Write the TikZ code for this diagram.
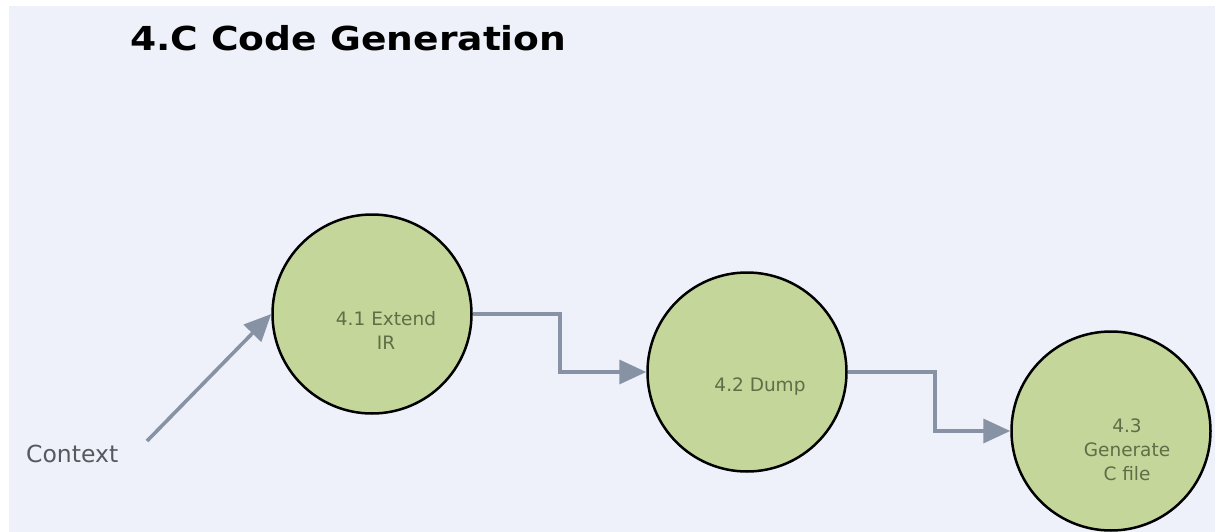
\documentclass[tikz,border=0pt]{standalone}
\usepackage{xcolor}
\usepackage{fontspec}
\setmainfont{DejaVu Sans}
\newfontfamily\headfont{DejaVu Sans}[FakeStretch=1.14]
\usepackage{tikz}
\usetikzlibrary{
  arrows.meta,
  positioning,
  calc
}
\definecolor{paper}{RGB}{238,241,249}
\definecolor{bubble}{RGB}{197,214,154}
\definecolor{bubbletext}{RGB}{95,110,70}
\definecolor{arrowgray}{RGB}{135,146,165}
\definecolor{ctxgray}{RGB}{85,89,95}

\begin{document}
\begin{tikzpicture}[
        x=1pt, y=-1pt,
        proc/.style={circle, draw=black, line width=2.5pt, fill=bubble,
                     minimum size=199pt, inner sep=0pt},
        lbl/.style={text=bubbletext, align=center,
                    font=\fontsize{18.5}{24}\selectfont},
        flow/.style={-{Triangle[length=27pt,width=24pt]}, line width=3.6pt,
                     draw=arrowgray}
    ]
        % page and panel
        \useasboundingbox (0,0) rectangle (1215,532);
        \fill[paper] (9,6) rectangle (1215,532);
        \node[anchor=base west, inner sep=0pt,
              font=\headfont\bfseries\fontsize{33}{40}\selectfont]
              (title) at (130,51) {4.C Code Generation};
        % processes
        \node[proc, label={[lbl,xshift=14pt,yshift=-16pt]center:{4.1 Extend\\IR}}]
              (p1) at (372,314) {};
        \node[proc, label={[lbl,xshift=13pt,yshift=-15pt]center:{4.2 Dump}}]
              (p2) at (747,372) {};
        \node[proc, label={[lbl,xshift=16pt,yshift=-19pt]center:{4.3\\Generate\\C file}}]
              (p3) at (1111,431) {};
        % external input
        \node[anchor=base west, inner sep=0pt, text=ctxgray,
              font=\fontsize{23.5}{28}\selectfont]
              (ctx) at (26,462) {Context};
        \coordinate (ctxout) at (147,441);
        % flows
        \draw[flow] (ctxout) -- (p1.west);
        \draw[flow] (p1.east) -- ++(87,0) |- (p2.west);
        \draw[flow] (p2.east) -- ++(87,0) |- (p3.west);
    \end{tikzpicture}
\end{document}
